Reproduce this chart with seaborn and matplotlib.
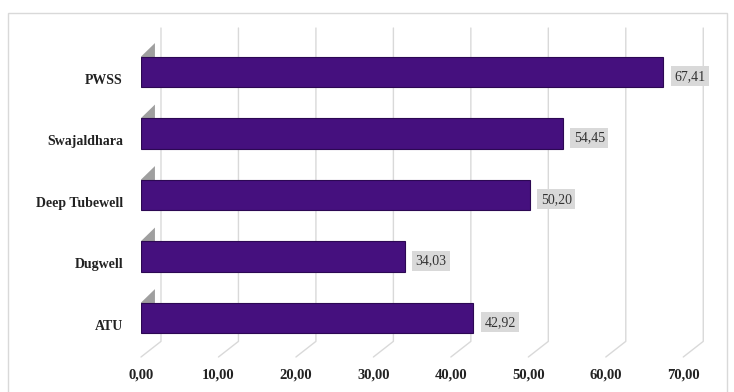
import matplotlib
matplotlib.use("Agg")
import matplotlib.pyplot as plt
import matplotlib.transforms as mtransforms
import seaborn as sns
import pandas as pd
from matplotlib.patches import Rectangle, Polygon

categories = ["PWSS", "Swajaldhara", "Deep Tubewell", "Dugwell", "ATU"]
values = [67.41, 54.45, 50.20, 34.03, 42.92]
xticks = [0, 10, 20, 30, 40, 50, 60, 70]
xtick_labels = ["0,00", "10,00", "20,00", "30,00", "40,00", "50,00", "60,00", "70,00"]

df = pd.DataFrame({"category": categories, "value": values})

sns.set_theme(style="white")
plt.rcParams["font.family"] = ["Liberation Serif", "DejaVu Serif"]

W, H = 734, 392
fig = plt.figure(figsize=(W / 100, H / 100), dpi=100)
fig.patch.set_facecolor("white")
fig.patches.append(Rectangle((8 / W, -0.01), (727 - 8) / W, (392 - 13) / H + 0.01,
                             transform=fig.transFigure, fill=False,
                             edgecolor="#d9d9d9", linewidth=1.0))

left, right = 141 / W, 722 / W
top, bottom = 1 - 28 / H, 1 - 357 / H
ax = fig.add_axes([left, bottom, right - left, top - bottom])
ax.patch.set_alpha(0)

sns.barplot(data=df, y="category", x="value", order=categories, orient="h",
            color="#45107e", edgecolor="#2c0853", linewidth=0.8,
            width=0.5, saturation=1, ax=ax, zorder=3)

ymin, ymax = -0.715, 4.634
ax.set_xlim(0, 75)
ax.set_ylim(ymax, ymin)

# 3D-like back-wall gridlines (offset right) with slanted floor segments
depth = 2.58
floor_back = 4.38
for xt in xticks:
    ax.plot([xt + depth, xt + depth, xt], [ymin, floor_back, ymax],
            color="#d9d9d9", linewidth=1.0, zorder=1, clip_on=False)

# grey end-cap shading at the left of each bar (3D look)
for i in range(len(categories)):
    ax.add_patch(Polygon([(0, i + 0.2), (0, i - 0.25), (1.8, i - 0.47), (1.8, i - 0.1)],
                         closed=True, facecolor="#7f7f7f", edgecolor="none",
                         alpha=0.75, zorder=2))

ax.set_xticks(xticks)
ax.set_xticklabels(xtick_labels, fontsize=10.5, fontweight="bold", color="#222222")
ax.tick_params(axis="x", length=0, pad=8)
ax.tick_params(axis="y", length=0, pad=13)
offset = mtransforms.ScaledTranslation(0, -7 / 100, fig.dpi_scale_trans)
for lab in ax.get_yticklabels():
    lab.set_fontsize(10)
    lab.set_fontweight("bold")
    lab.set_color("#222222")
    lab.set_transform(lab.get_transform() + offset)
ax.set_xlabel("")
ax.set_ylabel("")
for s in ["top", "right", "bottom", "left"]:
    ax.spines[s].set_visible(False)

for i, v in enumerate(values):
    ax.text(v + 1.4, i + 0.07, f"{v:.2f}".replace(".", ","), va="center", ha="left",
            fontsize=10, color="#333333", zorder=4,
            bbox=dict(boxstyle="square,pad=0.25", facecolor="#d9d9d9", edgecolor="none"))

fig.savefig("out.png", dpi=100)
